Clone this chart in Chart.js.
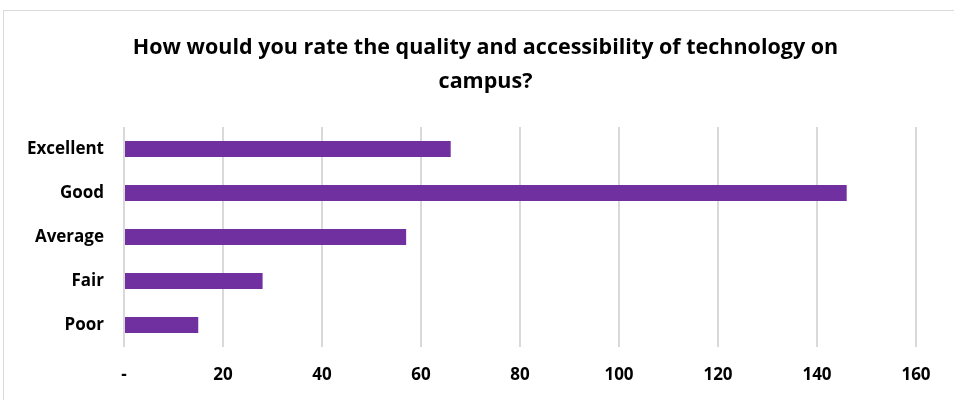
<!DOCTYPE html>
<html>
<head>
<meta charset="utf-8">
<script src="https://cdn.jsdelivr.net/npm/chart.js@4.4.1/dist/chart.umd.min.js"></script>
<style>
  html, body { margin: 0; padding: 0; background: #ffffff; overflow: hidden; }
  #frame {
    position: absolute; left: 3px; top: 10px;
    width: 963px; height: 390px;
    border-left: 1px solid #d9d9d9; border-top: 1px solid #d9d9d9;
  }
</style>
</head>
<body>
<div id="frame"><canvas id="myBarChart" width="963" height="389"></canvas></div>
<script>
// data
var categories = ['Excellent', 'Good', 'Average', 'Fair', 'Poor'];
var responses = [66, 146, 57, 28, 15];
var titleLines = ['How would you rate the quality and accessibility of technology on', 'campus?'];
var xMin = 0, xMax = 160, xStep = 20;

var fontFamily = "'Open Sans', 'Liberation Sans', sans-serif";

var ctxBar = document.getElementById('myBarChart');
var myBarChart = new Chart(ctxBar.getContext('2d'), {
    type: 'bar',
    data: {
        labels: categories,
        datasets: [{
            data: responses,
            backgroundColor: '#7030a0',
            borderWidth: 0,
            barPercentage: 0.364,
            categoryPercentage: 1
        }]
    },
    options: {
        indexAxis: 'y',
        responsive: false,
        animation: false,
        layout: { padding: 0 },
        plugins: {
            legend: { display: false },
            tooltip: { enabled: false },
            title: {
                display: true,
                text: titleLines,
                color: '#000000',
                font: { family: fontFamily, size: 21.5, weight: 'bold', lineHeight: 1.58 },
                padding: { top: 20, bottom: 28 }
            }
        },
        scales: {
            x: {
                min: xMin,
                max: xMax,
                grid: { color: '#d9d9d9', lineWidth: 2, drawTicks: false },
                border: { display: false },
                ticks: {
                    stepSize: xStep,
                    padding: 18,
                    color: '#000000',
                    font: { family: fontFamily, size: 17, weight: 'bold' },
                    callback: function(value) {
                        return value === 0 ? '-' : value;
                    }
                },
                afterFit: function(scale) { scale.height = 53; }
            },
            y: {
                grid: { display: false, drawTicks: false },
                border: { display: false },
                ticks: {
                    padding: 20,
                    color: '#000000',
                    font: { family: fontFamily, size: 17, weight: 'bold' }
                },
                afterFit: function(scale) { scale.width = 120; }
            },
            // empty right-hand axis, only reserves the gap right of the plot
            // so the title stays centred like in the original
            yRight: {
                type: 'category',
                position: 'right',
                grid: { display: false, drawTicks: false },
                border: { display: false },
                ticks: { display: false },
                afterFit: function(scale) { scale.width = 51; }
            }
        }
    }
});
</script>
</body>
</html>
